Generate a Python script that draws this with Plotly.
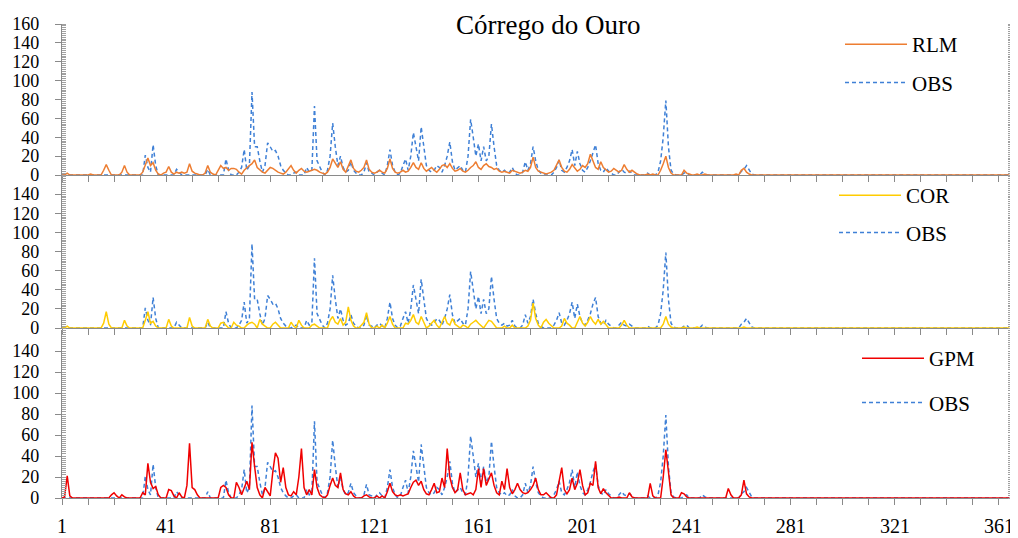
import plotly.graph_objects as go

# ---------------- data (daily values, day -> value; unlisted days are 0) ----------------
days = list(range(1, 366))
x_tick_labels = [1, 41, 81, 121, 161, 201, 241, 281, 321, 361]
y_ticks_top = [0, 20, 40, 60, 80, 100, 120, 140, 160]
y_ticks_low = [0, 20, 40, 60, 80, 100, 120, 140]

obs_nonzero = {
    33: 21, 34: 8, 35: 3, 36: 32, 37: 10, 45: 6, 46: 3, 57: 6, 64: 17, 65: 5,
    69: 3, 70: 8, 71: 27, 72: 5, 73: 10, 74: 88, 75: 30, 76: 30, 77: 15, 78: 3,
    79: 10, 80: 34, 81: 30, 82: 25, 83: 26, 84: 20, 85: 10, 86: 5, 87: 2, 90: 2,
    91: 3, 95: 8, 96: 3, 97: 5, 98: 73, 99: 15, 100: 8, 101: 3, 103: 5, 104: 20,
    105: 55, 106: 30, 107: 10, 108: 20, 109: 8, 110: 3, 111: 5, 112: 14, 113: 5,
    114: 2, 117: 3, 118: 13, 119: 3, 120: 2, 122: 3, 123: 5, 124: 2, 126: 10,
    127: 27, 128: 10, 129: 3, 131: 2, 132: 10, 133: 17, 134: 5, 135: 20, 136: 45,
    137: 30, 138: 15, 139: 51, 140: 30, 141: 10, 142: 5, 143: 3, 144: 5, 145: 10,
    146: 8, 147: 3, 148: 10, 149: 20, 150: 35, 151: 14, 152: 5, 153: 8, 154: 10,
    155: 5, 156: 3, 157: 20, 158: 59, 159: 40, 160: 20, 161: 33, 162: 15, 163: 30,
    164: 15, 165: 20, 166: 54, 167: 30, 168: 10, 169: 5, 170: 3, 171: 5, 172: 2,
    173: 3, 174: 8, 175: 2, 178: 3, 179: 14, 180: 5, 181: 12, 182: 30, 183: 15,
    184: 5, 185: 2, 190: 3, 191: 8, 192: 16, 193: 5, 194: 3, 195: 8, 196: 15,
    197: 27, 198: 10, 199: 25, 200: 12, 201: 5, 202: 3, 203: 8, 204: 15, 205: 25,
    206: 32, 207: 12, 208: 5, 209: 3, 210: 8, 211: 4, 212: 2, 215: 3, 216: 6,
    217: 3, 218: 2, 219: 4, 220: 2, 226: 2, 230: 3, 231: 15, 232: 40, 233: 79,
    234: 30, 235: 5, 236: 1, 240: 2, 241: 3, 247: 3, 248: 1, 262: 4, 263: 6,
    264: 10, 265: 5, 266: 1,
}

rlm_nonzero = {
    3: 2, 12: 1, 17: 5, 18: 11, 19: 5, 24: 3, 25: 10, 26: 3, 32: 3, 33: 10, 34: 18,
    35: 10, 36: 13, 37: 5, 38: 1, 40: 2, 41: 3, 42: 9, 43: 3, 44: 1, 45: 3, 46: 2,
    47: 3, 48: 2, 49: 3, 50: 12, 51: 4, 52: 2, 53: 1, 56: 2, 57: 10, 58: 3, 59: 1,
    61: 5, 62: 10, 63: 7, 64: 8, 65: 5, 66: 7, 67: 7, 68: 6, 69: 3, 70: 1, 71: 5,
    72: 8, 73: 10, 74: 12, 75: 16, 76: 8, 77: 5, 78: 3, 79: 2, 80: 5, 81: 8, 82: 7,
    83: 5, 84: 3, 85: 2, 86: 1, 87: 3, 88: 7, 89: 10, 90: 5, 91: 2, 92: 5, 93: 7,
    94: 4, 95: 3, 96: 4, 97: 5, 98: 6, 99: 5, 100: 3, 101: 2, 102: 1, 103: 3,
    104: 8, 105: 17, 106: 12, 107: 8, 108: 14, 109: 6, 110: 3, 111: 10, 112: 16,
    113: 7, 114: 4, 115: 3, 116: 5, 117: 8, 118: 16, 119: 6, 120: 3, 121: 2,
    122: 3, 123: 5, 124: 3, 125: 2, 126: 7, 127: 17, 128: 7, 129: 3, 130: 2,
    131: 3, 132: 5, 133: 3, 134: 4, 135: 8, 136: 13, 137: 8, 138: 6, 139: 13,
    140: 7, 141: 4, 142: 6, 143: 8, 144: 5, 145: 3, 146: 6, 147: 10, 148: 11,
    149: 8, 150: 12, 151: 7, 152: 4, 153: 5, 154: 7, 155: 4, 156: 3, 157: 5,
    158: 8, 159: 10, 160: 14, 161: 8, 162: 6, 163: 10, 164: 12, 165: 9, 166: 8,
    167: 6, 168: 7, 169: 4, 170: 3, 171: 4, 172: 3, 173: 2, 174: 5, 175: 4,
    176: 3, 177: 2, 178: 3, 179: 5, 180: 4, 181: 8, 182: 19, 183: 8, 184: 4,
    185: 3, 186: 2, 187: 1, 188: 2, 189: 3, 190: 5, 191: 10, 192: 16, 193: 8,
    194: 4, 195: 3, 196: 6, 197: 11, 198: 8, 199: 4, 200: 6, 201: 10, 202: 8,
    203: 12, 204: 22, 205: 15, 206: 8, 207: 6, 208: 14, 209: 8, 210: 5, 211: 3,
    212: 4, 213: 7, 214: 5, 215: 3, 216: 5, 217: 11, 218: 6, 219: 3, 220: 5,
    221: 3, 222: 1, 226: 1, 228: 1, 231: 5, 232: 12, 233: 20, 234: 8, 235: 2,
    240: 5, 241: 2, 242: 1, 245: 1, 248: 1, 260: 1, 262: 5, 263: 7, 264: 3, 265: 1,
}

cor_nonzero = {
    3: 2, 17: 5, 18: 17, 19: 4, 25: 8, 26: 2, 33: 8, 34: 17, 35: 5, 36: 7, 37: 2,
    42: 9, 43: 2, 50: 11, 51: 2, 57: 9, 58: 2, 62: 5, 63: 6, 64: 3, 67: 6, 68: 3,
    69: 2, 72: 3, 73: 5, 74: 6, 75: 4, 77: 9, 78: 4, 79: 2, 82: 4, 83: 6, 84: 3,
    89: 6, 90: 2, 92: 8, 93: 3, 97: 3, 98: 4, 99: 2, 104: 8, 105: 12, 106: 6,
    107: 4, 108: 10, 109: 3, 110: 6, 111: 22, 112: 8, 113: 2, 116: 3, 117: 6,
    118: 16, 119: 4, 122: 2, 124: 3, 126: 5, 127: 12, 128: 4, 133: 5, 134: 4,
    135: 8, 136: 14, 137: 6, 138: 4, 139: 12, 140: 5, 142: 2, 143: 5, 144: 8,
    145: 3, 147: 6, 148: 12, 149: 5, 150: 3, 151: 10, 152: 4, 153: 2, 155: 3,
    156: 2, 158: 4, 159: 6, 160: 8, 161: 5, 162: 2, 164: 4, 165: 8, 166: 7,
    167: 3, 171: 2, 174: 3, 180: 2, 181: 8, 182: 26, 183: 10, 184: 3, 186: 6,
    187: 9, 188: 5, 189: 2, 193: 2, 194: 10, 195: 5, 196: 3, 199: 6, 200: 12,
    201: 5, 202: 2, 203: 6, 204: 12, 205: 7, 206: 4, 207: 9, 208: 4, 209: 7,
    210: 3, 216: 3, 217: 8, 218: 3, 232: 4, 233: 12, 234: 4, 235: 1, 240: 1,
    245: 1, 263: 1,
}

gpm_nonzero = {
    2: 1, 3: 21, 4: 2, 20: 3, 21: 5, 22: 2, 24: 3, 25: 1, 32: 5, 33: 3, 34: 33,
    35: 15, 36: 9, 37: 11, 38: 3, 42: 8, 43: 7, 44: 2, 46: 5, 47: 1, 49: 12,
    50: 52, 51: 10, 52: 8, 53: 3, 62: 10, 63: 12, 64: 10, 65: 3, 68: 15, 69: 10,
    70: 3, 71: 10, 72: 16, 73: 8, 74: 53, 75: 30, 76: 10, 77: 3, 79: 10, 80: 6,
    81: 2, 82: 25, 83: 43, 84: 38, 85: 15, 86: 29, 87: 10, 88: 3, 89: 2, 90: 6,
    91: 3, 92: 20, 93: 47, 94: 10, 95: 3, 96: 8, 97: 3, 98: 27, 99: 10, 100: 3,
    101: 1, 103: 3, 104: 12, 105: 19, 106: 12, 107: 10, 108: 24, 109: 8, 110: 4,
    111: 3, 112: 6, 113: 2, 117: 2, 118: 3, 119: 1, 122: 2, 124: 2, 126: 6,
    127: 14, 128: 6, 129: 3, 130: 2, 131: 3, 132: 2, 133: 3, 134: 4, 135: 10,
    136: 15, 137: 17, 138: 12, 139: 16, 140: 8, 141: 4, 142: 3, 143: 8, 144: 14,
    145: 5, 146: 6, 147: 19, 148: 10, 149: 47, 150: 20, 151: 10, 152: 5, 153: 8,
    154: 24, 155: 8, 156: 3, 157: 4, 158: 5, 159: 3, 160: 8, 161: 28, 162: 10,
    163: 28, 164: 12, 165: 18, 166: 24, 167: 12, 168: 5, 169: 3, 170: 16, 171: 8,
    172: 28, 173: 10, 174: 4, 175: 8, 176: 14, 177: 8, 178: 5, 179: 4, 180: 5,
    181: 8, 182: 12, 183: 19, 184: 8, 185: 3, 186: 3, 187: 5, 188: 2, 191: 3,
    192: 16, 193: 29, 194: 8, 195: 4, 196: 8, 197: 19, 198: 8, 199: 14, 200: 27,
    201: 12, 202: 3, 203: 5, 204: 14, 205: 12, 206: 35, 207: 10, 208: 4, 209: 9,
    210: 5, 211: 2, 215: 1, 219: 5, 220: 1, 227: 14, 228: 2, 232: 20, 233: 46,
    234: 25, 235: 3, 239: 5, 240: 4, 241: 1, 257: 9, 258: 3, 262: 3, 263: 17,
    264: 4, 265: 1,
}

obs = [obs_nonzero.get(d, 0) for d in days]
rlm = [rlm_nonzero.get(d, 0) for d in days]
cor = [cor_nonzero.get(d, 0) for d in days]
gpm = [gpm_nonzero.get(d, 0) for d in days]

# ---------------- style ----------------
FONT = "Liberation Serif"
AXIS_COLOR = "#8a8a8a"
OBS_COLOR = "#3f80d6"
OFF = 8                      # page body margin of the html page
W, H = 1018 - OFF, 538 - OFF
# plot area in screen pixels: x 62..1012, y 24..498
PLOT_L, PLOT_R, PLOT_T, PLOT_B = 62, 1012, 24, 498
R = (W + OFF) - PLOT_R
PH = PLOT_B - PLOT_T
PW = PLOT_R - PLOT_L


def py(v):  # screen pixel y -> paper y
    return (PLOT_B - v) / PH


def px(v):  # screen pixel x -> paper x
    return (v - PLOT_L) / PW


panels = [
    ("RLM", rlm, "#ed7d31", "legend", (py(175), 1.0), y_ticks_top, 8),
    ("COR", cor, "#ffcc00", "legend2", (py(328), py(175)), y_ticks_low, 7),
    ("GPM", gpm, "#f00000", "legend3", (0.0, py(330)), y_ticks_low, 14),
]
legend_pos = [(840, 24), (834, 175), (857, 338)]

fig = go.Figure()
for i, (name, vals, color, leg, dom, yt, gap) in enumerate(panels):
    k = "" if i == 0 else str(i + 1)
    fig.add_trace(go.Scatter(
        x=days, y=obs, name="OBS", mode="lines", xaxis="x" + k, yaxis="y" + k,
        line=dict(color=OBS_COLOR, width=1.5, dash="4px,3px"),
        legend=leg, legendrank=2, legendgroup=f"obs{i}"))
    fig.add_trace(go.Scatter(
        x=days, y=vals, name=name, mode="lines", xaxis="x" + k, yaxis="y" + k,
        line=dict(color=color, width=1.5),
        legend=leg, legendrank=1, legendgroup=f"m{i}"))

    fig.layout["xaxis" + k] = dict(
        domain=[0, 1], anchor="y" + k, range=[1, 366], tick0=1, dtick=40,
        showticklabels=(i == 2), ticks="outside", ticklen=6, tickcolor=AXIS_COLOR,
        showline=True, linecolor=AXIS_COLOR, linewidth=1.3, showgrid=False,
        zeroline=False, ticklabelstandoff=4, automargin=False,
        minor=dict(dtick=10, tick0=1, ticks="outside", ticklen=6, tickcolor=AXIS_COLOR),
        tickfont=dict(family=FONT, size=20, color="black"),
        **({} if i == 0 else {"matches": "x"}))
    fig.layout["yaxis" + k] = dict(
        domain=list(dom), anchor="x" + k, range=[0, 160], tickvals=yt,
        ticks="outside", ticklen=6, tickcolor=AXIS_COLOR, showline=True,
        linecolor=AXIS_COLOR, linewidth=1.3, mirror="ticks", showgrid=False,
        zeroline=False, ticklabelstandoff=12, automargin=False,
        minor=dict(dtick=2, tick0=0, ticks="inside", ticklen=4,
                   tickcolor="#a0a0a0", tickwidth=1),
        tickfont=dict(family=FONT, size=18, color="black"))
    lx, ly = legend_pos[i]
    fig.layout[leg] = dict(
        x=px(lx), y=py(ly), xanchor="left", yanchor="top", xref="paper", yref="paper",
        bgcolor="rgba(0,0,0,0)", itemwidth=62, tracegroupgap=gap,
        font=dict(family=FONT, size=21, color="black"), traceorder="grouped")

fig.add_annotation(
    text="Córrego do Ouro", x=px(548), y=py(25), xref="paper", yref="paper",
    xanchor="center", yanchor="middle", showarrow=False,
    font=dict(family=FONT, size=27, color="black"))

fig.update_layout(
    width=W, height=H,
    margin=dict(l=PLOT_L - OFF, r=R, t=PLOT_T - OFF, b=(H + OFF) - PLOT_B),
    paper_bgcolor="white", plot_bgcolor="white", showlegend=True,
)

fig.write_html("out.html")
